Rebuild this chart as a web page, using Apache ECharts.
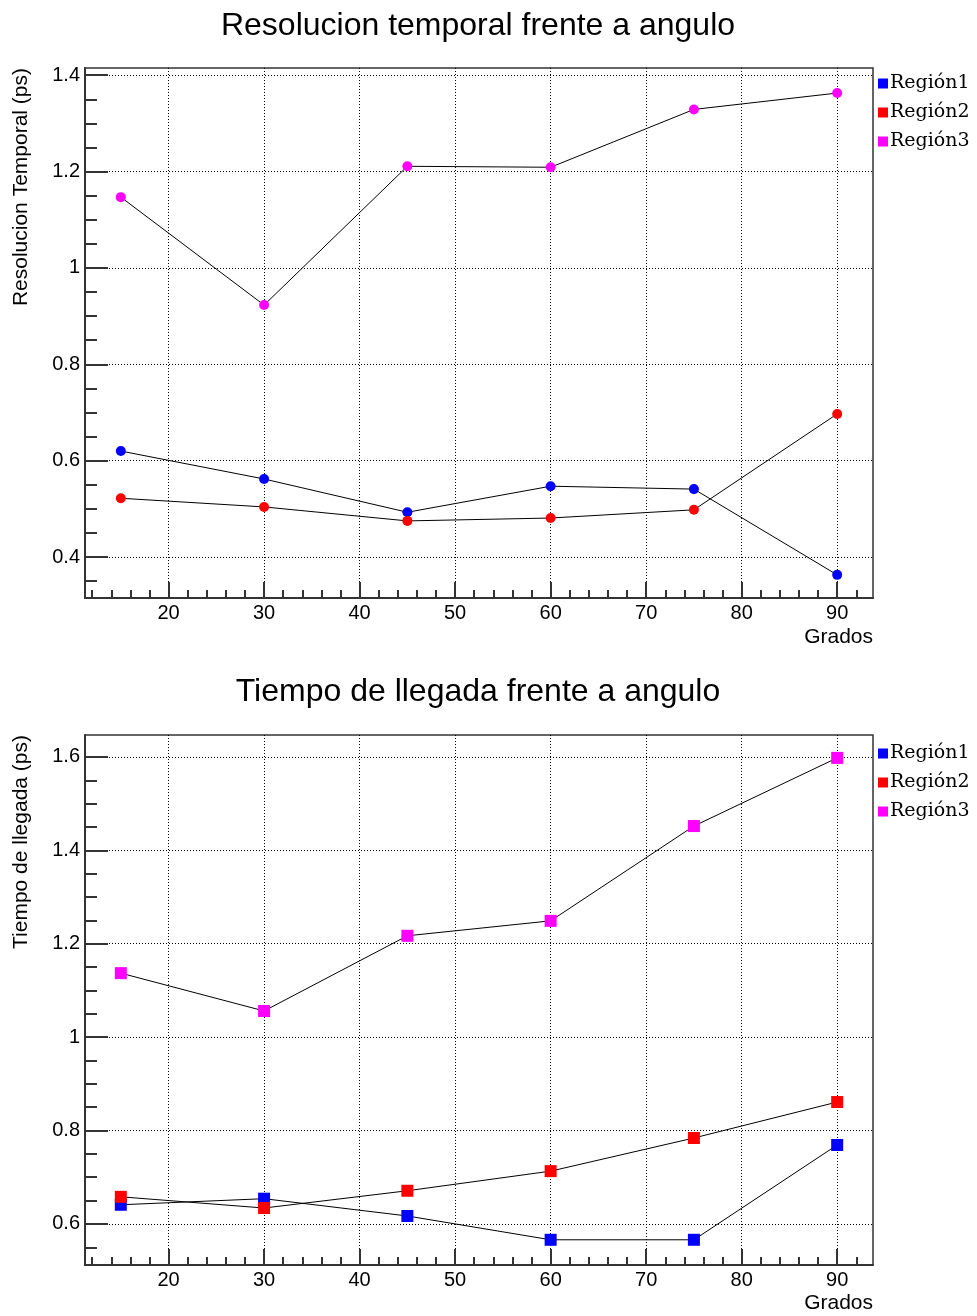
<!DOCTYPE html>
<html>
<head>
<meta charset="utf-8">
<script src="https://cdn.jsdelivr.net/npm/echarts@6/dist/echarts.min.js"></script>
<style>html,body{margin:0;padding:0;background:#fff}#c{width:977px;height:1316px}</style>
</head>
<body>
<div id="c"></div>
<script>
// ---- data ----
const angles = [15, 30, 45, 60, 75, 90];
const names = ['Región1', 'Región2', 'Región3'];
// Top chart: Resolucion temporal (ps)
const resR1 = [0.620, 0.562, 0.493, 0.547, 0.541, 0.363];
const resR2 = [0.522, 0.504, 0.475, 0.481, 0.498, 0.697];
const resR3 = [1.147, 0.923, 1.211, 1.209, 1.329, 1.363];
// Bottom chart: Tiempo de llegada (ps)
const llgR1 = [0.641, 0.654, 0.617, 0.566, 0.566, 0.769];
const llgR2 = [0.658, 0.634, 0.671, 0.713, 0.784, 0.861];
const llgR3 = [1.137, 1.056, 1.217, 1.249, 1.452, 1.598];
// ticks
const xMajor = [20, 30, 40, 50, 60, 70, 80, 90];
const xMinor = [12,14,16,18,20,22,24,26,28,30,32,34,36,38,40,42,44,46,48,50,52,54,56,58,60,62,64,66,68,70,72,74,76,78,80,82,84,86,88,90,92];
const yMajorTop = [0.4, 0.6, 0.8, 1.0, 1.2, 1.4];
const yMinorTop = [0.35,0.4,0.45,0.5,0.55,0.6,0.65,0.7,0.75,0.8,0.85,0.9,0.95,1.0,1.05,1.1,1.15,1.2,1.25,1.3,1.35,1.4];
const yMajorBot = [0.6, 0.8, 1.0, 1.2, 1.4, 1.6];
const yMinorBot = [0.55,0.6,0.65,0.7,0.75,0.8,0.85,0.9,0.95,1.0,1.05,1.1,1.15,1.2,1.25,1.3,1.35,1.4,1.45,1.5,1.55,1.6];
const colors = ['#0000ff', '#ff0000', '#ff00ff'];

const pairs = v => angles.map((a, i) => [a, v[i]]);
const FONT = 'Liberation Sans';
const AX = '#333';
const FS = 20;
const FT = 21;

function xAxes(grid) {
  return [
    { type: 'value', gridIndex: grid, position: 'bottom', min: 11.25, max: 93.75,
      axisLine: { show: true, lineStyle: { color: AX, width: 2 } },
      axisTick: { show: true, inside: true, length: 16, customValues: xMajor, lineStyle: { color: AX, width: 2 } },
      axisLabel: { show: true, customValues: xMajor, margin: 5, color: '#000', fontFamily: FONT, fontSize: FS },
      splitLine: { show: true, lineStyle: { color: '#000', width: 1, type: [1, 2] } } },
    { type: 'value', gridIndex: grid, position: 'bottom', min: 11.25, max: 93.75,
      axisLine: { show: false },
      axisTick: { show: true, inside: true, length: 8, customValues: xMinor, lineStyle: { color: AX, width: 2 } },
      axisLabel: { show: false }, splitLine: { show: false } }
  ];
}
function yAxes(grid, min, max, major, minor) {
  return [
    { type: 'value', gridIndex: grid, position: 'left', min: min, max: max,
      axisLine: { show: true, lineStyle: { color: AX, width: 2 } },
      axisTick: { show: true, inside: true, length: 23, customValues: major, lineStyle: { color: AX, width: 2 } },
      axisLabel: { show: true, customValues: major, margin: 5, color: '#000', fontFamily: FONT, fontSize: FS },
      splitLine: { show: true, lineStyle: { color: '#000', width: 1, type: [1, 2] } } },
    { type: 'value', gridIndex: grid, position: 'left', min: min, max: max,
      axisLine: { show: false },
      axisTick: { show: true, inside: true, length: 12, customValues: minor, lineStyle: { color: AX, width: 2 } },
      axisLabel: { show: false }, splitLine: { show: false } }
  ];
}
function mkSeries(vals, xi, yi, symbol, size) {
  return vals.map((v, k) => ({
    type: 'line', name: names[k], xAxisIndex: xi, yAxisIndex: yi,
    data: pairs(v), symbol: symbol, symbolSize: size, showSymbol: true,
    lineStyle: { color: '#000', width: 1 },
    itemStyle: { color: colors[k] }, emphasis: { disabled: true }, z: 3
  }));
}
const legendBase = {
  data: names, orient: 'vertical', icon: 'rect', itemWidth: 10, itemHeight: 10, itemGap: 10,
  textStyle: { fontFamily: 'DejaVu Serif', fontSize: 19, color: '#000', padding: [0, 0, 0, -3] }
};

const chart = echarts.init(document.getElementById('c'), null, { renderer: 'canvas' });
chart.setOption({
  animation: false,
  backgroundColor: '#fff',
  title: [
    { text: 'Resolucion temporal frente a angulo', left: 473, top: 5, textAlign: 'center',
      textStyle: { fontFamily: FONT, fontSize: 32, fontWeight: 'normal', color: '#000' } },
    { text: 'Tiempo de llegada frente a angulo', left: 473, top: 671, textAlign: 'center',
      textStyle: { fontFamily: FONT, fontSize: 32, fontWeight: 'normal', color: '#000' } }
  ],
  grid: [
    { left: 85, top: 68, width: 788, height: 530, show: true, borderColor: AX, borderWidth: 1.5, backgroundColor: 'transparent' },
    { left: 85, top: 735, width: 788, height: 530, show: true, borderColor: AX, borderWidth: 1.5, backgroundColor: 'transparent' }
  ],
  xAxis: [].concat(xAxes(0), xAxes(1)),
  yAxis: [].concat(yAxes(0, 0.315, 1.415, yMajorTop, yMinorTop), yAxes(1, 0.512, 1.647, yMajorBot, yMinorBot)),
  legend: [
    Object.assign({}, legendBase, { left: 873, top: 69 }),
    Object.assign({}, legendBase, { left: 873, top: 739 })
  ],
  graphic: [
    { type: 'text', x: 21, y: 68, rotation: Math.PI / 2,
      style: { text: 'Resolucion Temporal (ps)', fontFamily: FONT, fontSize: FT, fill: '#000', align: 'right', verticalAlign: 'middle' } },
    { type: 'text', x: 21, y: 735, rotation: Math.PI / 2,
      style: { text: 'Tiempo de llegada (ps)', fontFamily: FONT, fontSize: FT, fill: '#000', align: 'right', verticalAlign: 'middle' } },
    { type: 'text', x: 873, y: 637,
      style: { text: 'Grados', fontFamily: FONT, fontSize: FT, fill: '#000', align: 'right', verticalAlign: 'middle' } },
    { type: 'text', x: 873, y: 1303,
      style: { text: 'Grados', fontFamily: FONT, fontSize: FT, fill: '#000', align: 'right', verticalAlign: 'middle' } }
  ],
  series: [].concat(
    mkSeries([resR1, resR2, resR3], 0, 0, 'circle', 10),
    mkSeries([llgR1, llgR2, llgR3], 2, 2, 'rect', 12)
  )
});
</script>
</body>
</html>
